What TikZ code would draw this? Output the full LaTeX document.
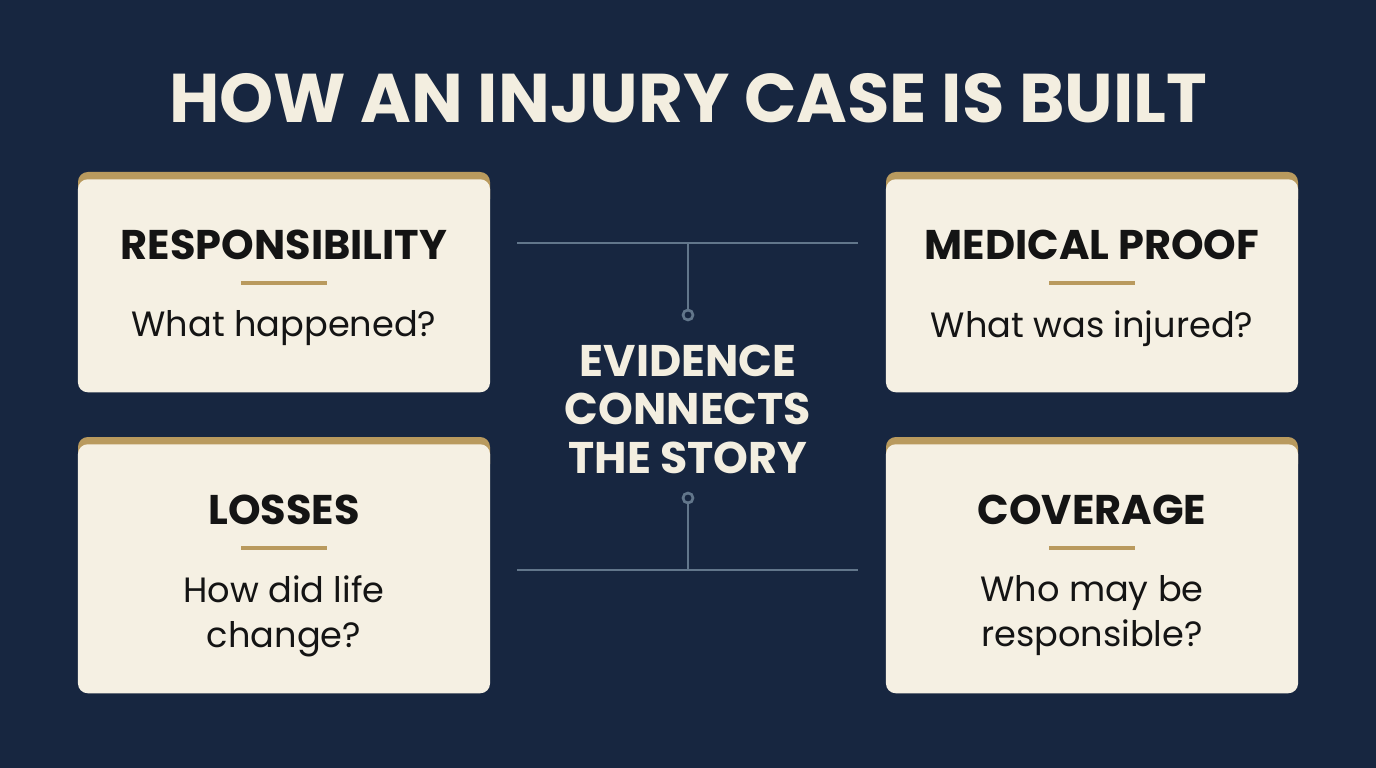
\documentclass[tikz,border=0pt]{standalone}
\usepackage{fontspec}
\setmainfont{Poppins}
\usepackage{tikz}
\usetikzlibrary{calc, positioning}

\definecolor{navybg}{HTML}{172640}
\definecolor{cardbg}{HTML}{F5F0E3}
\definecolor{goldline}{HTML}{B99A5E}
\definecolor{creamtxt}{HTML}{F3EEE0}
\definecolor{inktxt}{HTML}{141414}
\definecolor{linkgray}{HTML}{62768B}

% card: name, centre x, top y, height, heading, question
\newcommand{\casecard}[6]{%
    \fill[goldline, rounded corners=7pt] (#2-206,#3-7) rectangle (#2+206,#3+30);
    \node[card, minimum height=#4*0.025cm] (#1) at (#2,#3) {};
    \node[cardhead] (#1-head) at (#2,#3+66) {#5};
    \draw[goldline, line width=2.2pt] (#2-43,#3+104) -- (#2+43,#3+104);
    \node[cardsub] (#1-ques) at (#2,#3+127) {#6};
}

\begin{document}
\begin{tikzpicture}[
    x=0.025cm, y=-0.025cm,
    card/.style={fill=cardbg, rounded corners=7pt, minimum width=10.3cm,
                 anchor=north, inner sep=0pt},
    cardhead/.style={font=\fontsize{29.5}{34}\selectfont\bfseries, text=inktxt},
    cardsub/.style={font=\fontsize{25}{31.5}\selectfont, text=inktxt,
                    align=center, anchor=north},
    link/.style={draw=linkgray, line width=2.1pt},
    linkdot/.style={circle, draw=linkgray, line width=1.9pt, fill=navybg,
                    minimum size=0.25cm, inner sep=0pt}
]
    \fill[navybg] (0,0) rectangle (1376,768);
    \useasboundingbox (0,0) rectangle (1376,768);

    \node[font=\fontsize{49}{58}\selectfont\bfseries, text=creamtxt] (title)
        at (688,98) {HOW AN INJURY CASE IS BUILT};

    \casecard{resp}{284}{179}{213}{RESPONSIBILITY}{What happened?}
    \casecard{med}{1092}{179}{213}{MEDICAL PROOF}{What was injured?}
    \casecard{loss}{284}{444}{249}{LOSSES}{How did life\\change?}
    \casecard{cov}{1092}{444}{249}{COVERAGE}{Who may be\\responsible?}

    \node[font=\fontsize{31.5}{34.5}\selectfont\bfseries, text=creamtxt, align=center]
        (story) at (688,409) {EVIDENCE\\CONNECTS\\THE STORY};

    % connectors above and below the centre text
    \coordinate (topl) at (517,243);
    \coordinate (topr) at (858,243);
    \coordinate (topj) at (688,243);
    \node[linkdot] (topdot) at (688,315) {};
    \coordinate (botl) at (517,570);
    \coordinate (botr) at (858,570);
    \coordinate (botj) at (688,570);
    \node[linkdot] (botdot) at (688,498) {};

    \draw[link] (topl) -- (topr);
    \draw[link] (topj) -- (topdot);
    \draw[link] (botl) -- (botr);
    \draw[link] (botj) -- (botdot);
\end{tikzpicture}
\end{document}
